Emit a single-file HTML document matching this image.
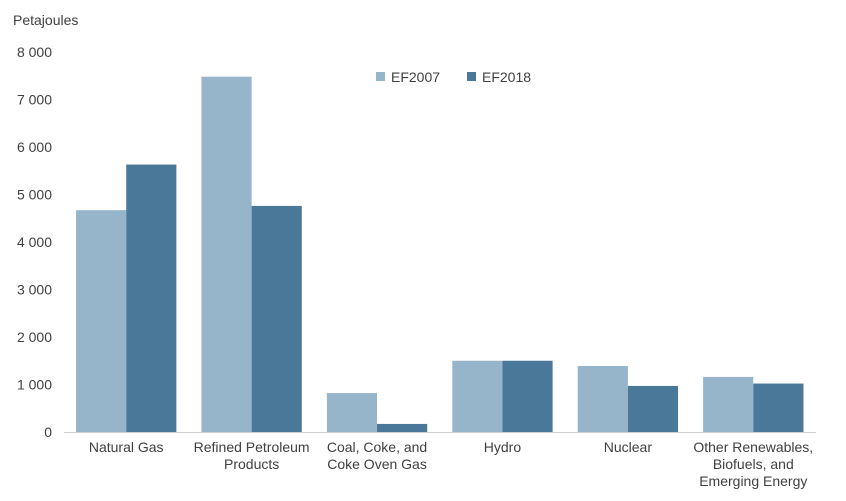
<!DOCTYPE html>
<html><head><meta charset="utf-8"><style>
body{margin:0;background:#fff;}
svg text{font-family:"Liberation Sans",sans-serif;fill:#404040;font-size:14px;}
</style></head><body>
<svg id="chart" width="846" height="496" viewBox="0 0 846 496" xmlns="http://www.w3.org/2000/svg">
<text x="13" y="25">Petajoules</text>
<g id="yticks"></g>
<g id="bars"></g>
<line x1="64" y1="432.5" x2="816" y2="432.5" stroke="#d0d0d0" stroke-width="1"/>
<g id="xlabels"></g>
<g>
<rect x="376" y="72" width="9" height="9" fill="#97b5ca"/>
<text x="391" y="82">EF2007</text>
<rect x="467" y="72" width="9" height="9" fill="#4a7899"/>
<text x="482" y="82">EF2018</text>
</g>
</svg>
<script>
const categories=[["Natural Gas"],["Refined Petroleum","Products"],["Coal, Coke, and","Coke Oven Gas"],["Hydro"],["Nuclear"],["Other Renewables,","Biofuels, and","Emerging Energy"]];
const ef2007=[4670,7480,820,1500,1390,1160];
const ef2018=[5630,4760,170,1500,970,1020];
const yTicks=[0,1000,2000,3000,4000,5000,6000,7000,8000];
const tickLabels=["0","1 000","2 000","3 000","4 000","5 000","6 000","7 000","8 000"];
const NS="http://www.w3.org/2000/svg";
const x0=63.5,x1=816,yBase=432,yTop=52,yMax=8000;
const band=(x1-x0)/categories.length;
function y(v){return yBase-(v/yMax)*(yBase-yTop);}
function bx(i){return x0+i*band;}
const yt=document.getElementById('yticks');
yTicks.forEach((t,i)=>{const e=document.createElementNS(NS,'text');


e.setAttribute('x',52);e.setAttribute('y',y(t)+5);e.setAttribute('text-anchor','end');e.textContent=tickLabels[i];yt.appendChild(e);});
const bg=document.getElementById('bars');
const bw=band*0.4,gap=band*0.1;
categories.forEach((c,i)=>{
[[ef2007,'#97b5ca','ef2007'],[ef2018,'#4a7899','ef2018']].forEach((s,k)=>{
const r=document.createElementNS(NS,'rect');


const v=s[0][i];
r.setAttribute('x',bx(i)+gap+k*bw);r.setAttribute('width',bw);
r.setAttribute('y',y(v));r.setAttribute('height',yBase-y(v));r.setAttribute('fill',s[1]);bg.appendChild(r);});
const t=document.createElementNS(NS,'text');


t.setAttribute('text-anchor','middle');
c.forEach((line,j)=>{const ts=document.createElementNS(NS,'tspan');ts.setAttribute('x',bx(i)+band/2);ts.setAttribute('y',452+j*17);ts.textContent=line;t.appendChild(ts);});
document.getElementById('xlabels').appendChild(t);
});
</script>
</body></html>
